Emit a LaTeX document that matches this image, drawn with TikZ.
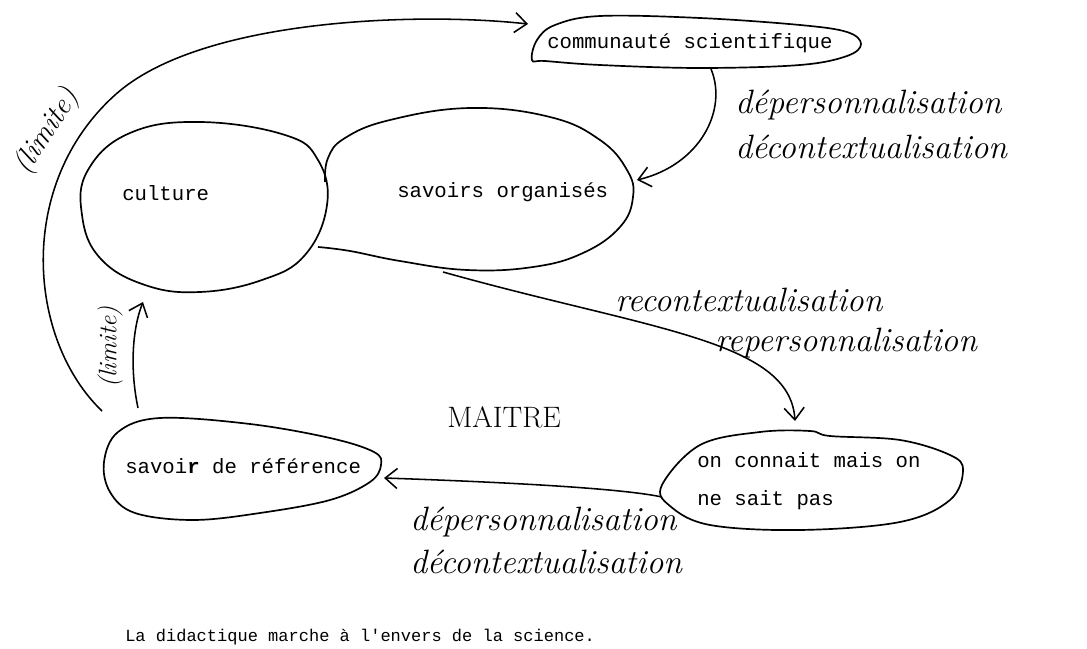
\documentclass[tikz,border=0pt]{standalone}
\usepackage{fontspec}
\newfontfamily\typew{Liberation Mono}
\usetikzlibrary{arrows.meta}
\tikzset{
  blob/.style={line width=1.2pt, line join=round},
  conn/.style={line width=1.1pt, -{Straight Barb[length=3mm,width=5mm]}},
  tw/.style={font=\typew\fontsize{14.7}{27}\selectfont, inner sep=0pt, anchor=west, align=left},
  hand/.style={font=\itshape\fontsize{24}{28}\selectfont, inner sep=0pt, anchor=west},
}
\begin{document}
\begin{tikzpicture}[x=0.025cm,y=-0.025cm]
      \useasboundingbox (0,0) rectangle (1087,649);
      % outlines
      \draw[blob] plot[smooth cycle,tension=0.6] coordinates {(532,60) (537,40) (555,25) (600,16) (700,18) (800,25) (847,32) (861,44) (847,56) (800,65) (700,68) (600,65) (545,61)};
      \draw[blob] plot[smooth cycle,tension=0.7] coordinates {(327,205) (318,160) (285,135) (200,122) (130,133) (88,170) (82,215) (100,258) (145,285) (200,292) (262,280) (305,255)};
      \draw[blob] plot[smooth,tension=0.7] coordinates {(325,182) (328,158) (345,138) (390,120) (470,108) (550,117) (600,140) (627,170) (633,197) (620,227) (583,253) (533,267) (467,270) (400,261) (350,251) (318,247)};
      \draw[blob] plot[smooth cycle,tension=0.6] coordinates {(104,462) (118,432) (160,418) (250,424) (330,438) (374,452) (381,465) (370,482) (330,500) (260,513) (193,520) (135,513) (110,492)};
      \draw[blob] plot[smooth cycle,tension=0.6] coordinates {(662,485) (700,445) (760,432) (810,431) (830,436) (900,440) (950,455) (963,470) (950,500) (900,522) (800,530) (710,525) (670,506)};
      % texts in the blobs
      \node[tw] (comm) at (547,43) {communauté scientifique};
      \node[tw] (cult) at (122,193) {culture};
      \node[tw] (sav) at (397,192) {savoirs organisés};
      \node[tw] (ref) at (125,466) {savoi\textbf{r} de référence};
      \node[tw] (conn) at (697,481) {on connait mais on\\ne sait pas};
      % end points of the arrows
      \coordinate (refNW) at (102,411);
      \coordinate (commW) at (528,24);
      \coordinate (limS) at (138,408);
      \coordinate (limN) at (143,302);
      \coordinate (commS) at (711,69);
      \coordinate (savE) at (637,180);
      \coordinate (savS) at (443,272);
      \coordinate (connN) at (795,421);
      \coordinate (connW) at (662,497);
      \coordinate (refE) at (384,478);
      \draw[conn] (refNW) .. controls (28,340) and (15,185) .. (115,95) .. controls (200,18) and (420,12) .. (commW);
      \draw[conn] (limS) .. controls (130,370) and (132,330) .. (limN);
      \draw[conn] (commS) .. controls (728,110) and (700,165) .. (savE);
      \draw[conn] (savS) .. controls (650,330) and (790,340) .. (connN);
      \draw[conn] (connW) .. controls (620,488) and (500,482) .. (refE);
      % handwritten labels
      \foreach \nm/\x/\y/\txt in {dpA/735/105/dépersonnalisation,dcA/735/147/décontextualisation,rc/615/300/recontextualisation,rp/715/343/repersonnalisation,dpB/410/522/dépersonnalisation,dcB/410/562/décontextualisation}{
        \node[hand] (\nm) at (\x,\y) {\txt};
      }
      \node[font=\fontsize{21}{24}\selectfont, inner sep=0pt, anchor=west] (maitre) at (447,417) {MAITRE};
      \node[hand, font=\itshape\fontsize{21}{24}\selectfont, anchor=center, rotate=57] (limA) at (47,132) {(limite)};
      \node[hand, font=\itshape\fontsize{18}{22}\selectfont, anchor=center, rotate=90] (limB) at (110,347) {(limite)};
      \node[tw, font=\typew\fontsize{12.1}{14}\selectfont] (caption) at (125,637) {La didactique marche à l'envers de la science.};
    \end{tikzpicture}
\end{document}
